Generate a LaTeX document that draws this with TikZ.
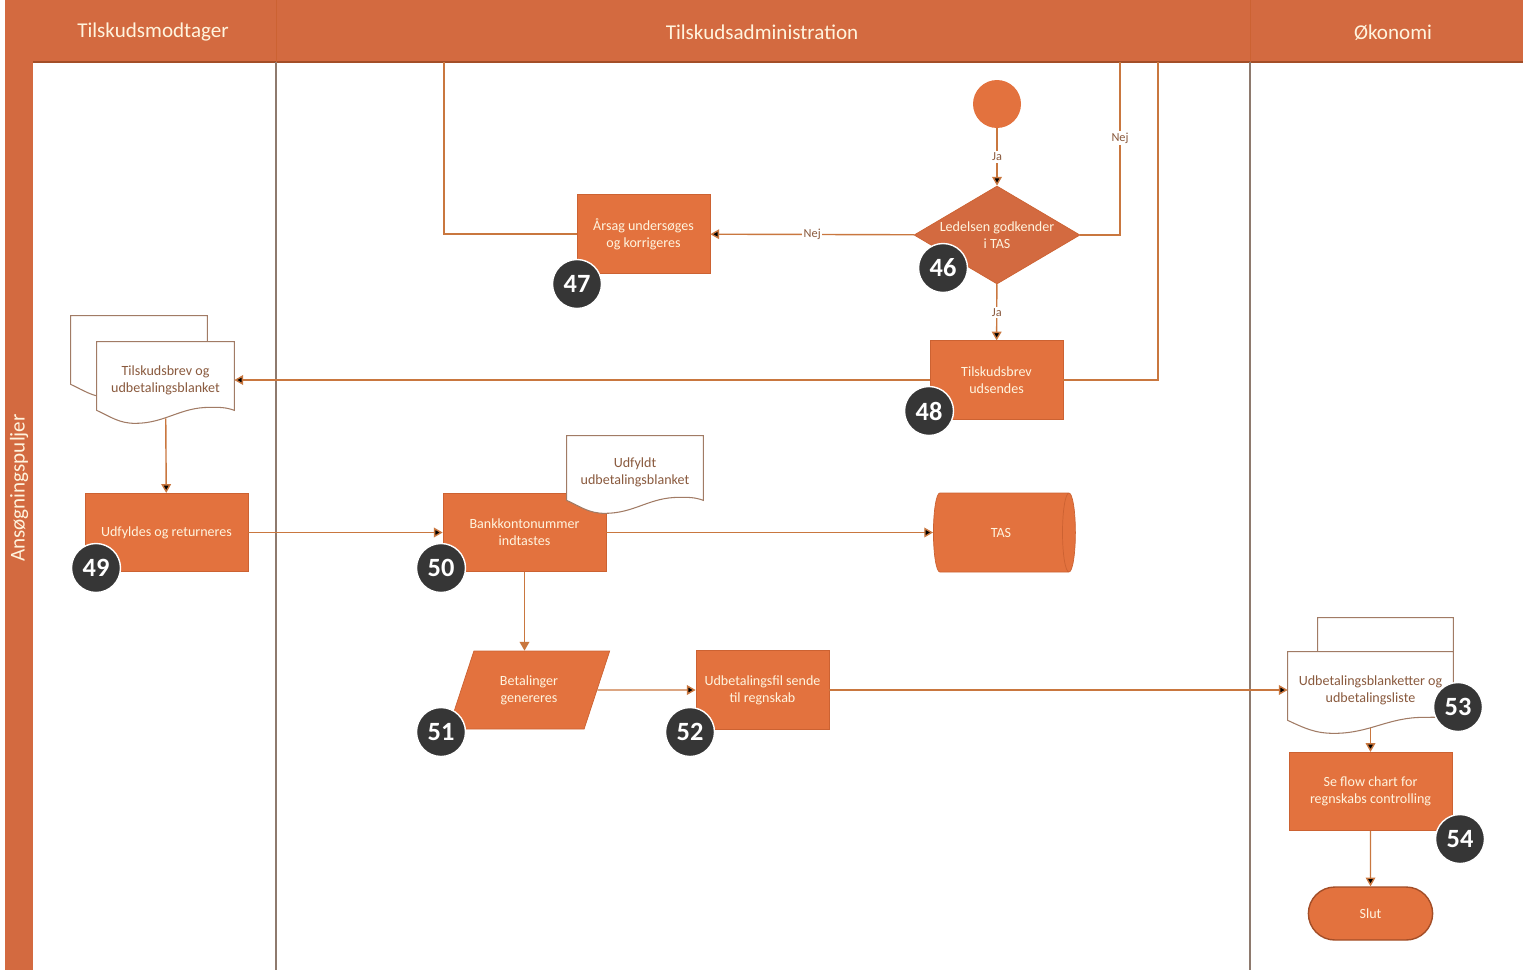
\documentclass[tikz,border=0pt]{standalone}
\usepackage{fontspec}
\setmainfont{Carlito}
\usetikzlibrary{arrows.meta,calc,shapes.geometric,shapes.misc}

\definecolor{lanehead}{HTML}{D36A40}
\definecolor{boxfill}{HTML}{E3723E}
\definecolor{boxedge}{HTML}{CC6232}
\definecolor{flowline}{HTML}{C9773F}
\definecolor{lanerule}{HTML}{8E7A6E}
\definecolor{badgefill}{HTML}{363636}
\definecolor{doctext}{HTML}{8A5A3E}
\definecolor{boxtext}{HTML}{FFF4DE}

% outline of a document sheet round a named node
\newcommand{\docpath}[1]{(#1.north west) -- ($(#1.south west)+(0,-8)$)
  to[out=-25,in=180] ($(#1.south west)!0.28!(#1.south east)+(0,5)$)
  to[out=0,in=180] ($(#1.south west)!0.82!(#1.south east)+(0,-11)$)
  to[out=0,in=160] ($(#1.south east)+(0,-8)$) -- (#1.north east) -- cycle}

\begin{document}
\begin{tikzpicture}[x=0.02cm,y=-0.02cm,
  every node/.style={font=\fontsize{8}{9.5}\selectfont},
  box/.style={draw=boxedge,fill=boxfill,text=boxtext,align=center,minimum width=2.66cm,minimum height=1.57cm,inner sep=1pt},
  widebox/.style={box,minimum width=3.26cm},
  docframe/.style={inner sep=0pt},
  docedge/.style={draw=doctext!80,fill=white,line width=0.6pt},
  doclabel/.style={align=center,text=doctext},
  badge/.style={circle,fill=badgefill,draw=white,line width=0.8pt,minimum size=0.98cm,inner sep=0pt,text=white,font=\bfseries\fontsize{15}{15}\selectfont},
  flow/.style={draw=flowline,line width=0.8pt,-{Triangle[width=5.5pt,length=5pt]}},
  backline/.style={draw=flowline,line width=0.8pt},
  lbl/.style={fill=white,inner sep=1pt,text=doctext,font=\fontsize{7}{7}\selectfont},
  headtext/.style={text=boxtext,font=\fontsize{12}{12}\selectfont}]

\useasboundingbox (0,0) rectangle (1523,970);

% swimlanes
\fill[lanehead] (5,0) rectangle (1523,62);
\fill[lanehead] (5,0) rectangle (33,970);
\draw[boxedge!80!black,line width=0.6pt] (33,62) -- (1523,62);
\draw[boxedge,line width=0.4pt] (276,0) -- (276,62) (1250,0) -- (1250,62);
\draw[lanerule,line width=0.6pt] (276,62) -- (276,970) (1250,62) -- (1250,970);

\node[headtext] (h1) at (153,32) {Tilskudsmodtager};
\node[headtext] (h2) at (762,32) {Tilskudsadministration};
\node[headtext] (h3) at (1393,33) {Økonomi};
\node[headtext,rotate=90] (h4) at (19,488) {Ansøgningspuljer};

% steps
\node[circle,fill=boxfill,minimum size=0.96cm,inner sep=0pt] (start) at (997,104) {};
\node[diamond,aspect=1.7,draw=boxedge,fill=lanehead,text=boxtext,align=center,inner sep=0pt,minimum width=3.32cm,minimum height=1.96cm] (d46) at (997,235) {Ledelsen godkender\\i TAS};
\node[box] (b47) at (643.5,234) {Årsag undersøges\\og korrigeres};
\node[box] (b48) at (996.5,380) {Tilskudsbrev\\udsendes};
\node[widebox] (b49) at (166.5,532.5) {Udfyldes og returneres};
\node[widebox] (b50) at (524.5,532.5) {Bankkontonummer\\indtastes};
\node[cylinder,shape border rotate=0,aspect=1.4,draw=boxedge,fill=boxfill,text=boxtext,inner sep=0pt,minimum width=1.58cm,minimum height=2.84cm] (tas) at (1001,532.5) {TAS};
\node[trapezium,trapezium left angle=65,trapezium right angle=115,trapezium stretches=true,draw=boxedge,fill=boxfill,text=boxtext,align=center,inner sep=0pt,minimum width=3.24cm,minimum height=1.56cm] (p51) at (529,690) {Betalinger\\genereres};
\node[box] (b52) at (762.5,690) {Udbetalingsfil sende\\til regnskab};
\node[widebox] (b54) at (1370.5,791.5) {Se flow chart for\\regnskabs controlling};
\node[rounded rectangle,draw=boxedge!80!black,line width=0.8pt,fill=boxfill,text=boxtext,minimum width=2.72cm,minimum height=1.06cm] (slut) at (1370.5,913.5) {Slut};

% documents
\node[docframe,minimum width=2.72cm,minimum height=1.52cm] (doc1b) at (139,354) {};
\node[docframe,minimum width=2.74cm,minimum height=1.52cm] (doc1) at (165.5,380) {};
\node[docframe,minimum width=2.72cm,minimum height=1.44cm] (udf) at (635,472) {};
\node[docframe,minimum width=2.70cm,minimum height=1.52cm] (doc53b) at (1385.5,656) {};
\node[docframe,minimum width=3.30cm,minimum height=1.52cm] (doc53) at (1370.5,690) {};
\filldraw[docedge] \docpath{doc1b};
\filldraw[docedge] \docpath{doc1};
\filldraw[docedge] \docpath{udf};
\filldraw[docedge] \docpath{doc53b};
\filldraw[docedge] \docpath{doc53};
\node[doclabel] (t1) at (doc1) {Tilskudsbrev og\\udbetalingsblanket};
\node[doclabel] (t2) at (udf) {Udfyldt\\udbetalingsblanket};
\node[doclabel] (t3) at (doc53) {Udbetalingsblanketter og\\udbetalingsliste};

% connectors
\coordinate (top1) at (1120,62);
\coordinate (top2) at (444,62);
\coordinate (top3) at (1158,62);
\draw[backline] (d46.east) -| node[lbl,pos=0.78]{Nej} (top1);
\draw[backline] (b47.west) -| (top2);
\draw[backline] (b48.east) -| (top3);

\path[flow] (start) edge node[lbl]{Ja} (d46)
  (d46) edge node[lbl]{Nej} (b47)
  (d46) edge node[lbl]{Ja} (b48)
  (b48) edge (doc1)
  (doc1) edge (b49)
  (b49) edge (b50)
  (b50) edge (tas)
  (p51) edge (b52)
  (b52) edge (doc53)
  (doc53) edge (b54)
  (b54) edge (slut);
\draw[flow] (b50.south) -- (b50.south |- p51.north);

% step numbers
\node[badge] (n46) at (943,268) {46};
\node[badge] (n47) at (577,284) {47};
\node[badge] (n48) at (929,411) {48};
\node[badge] (n49) at (96,568) {49};
\node[badge] (n50) at (441,568) {50};
\node[badge] (n51) at (441,732) {51};
\node[badge] (n52) at (690,732) {52};
\node[badge] (n53) at (1458,707) {53};
\node[badge] (n54) at (1460,839) {54};

\end{tikzpicture}
\end{document}
